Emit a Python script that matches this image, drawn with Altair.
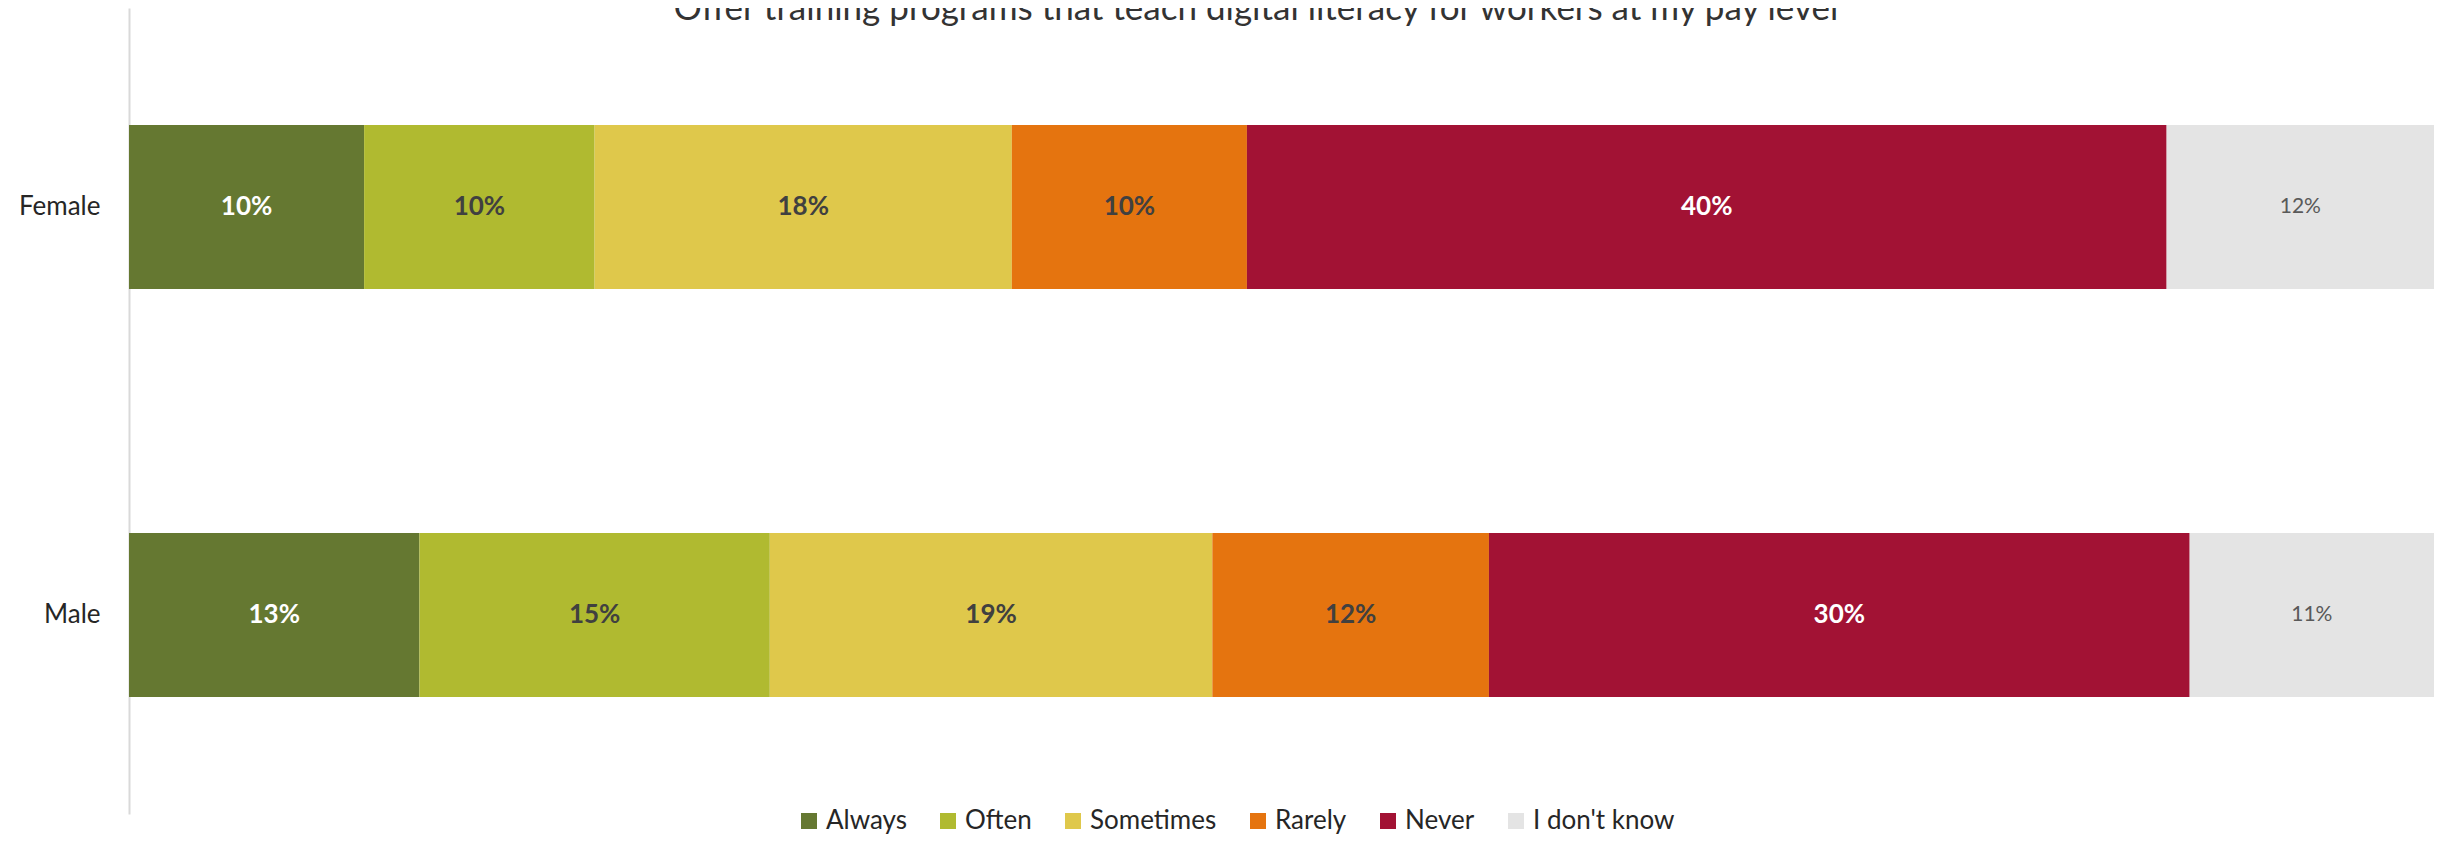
import altair as alt
import pandas as pd

title_text = "Offer training programs that teach digital literacy for workers at my pay level"
genders = ["Female", "Male"]
categories = ["Always", "Often", "Sometimes", "Rarely", "Never", "I don't know"]
female_values = [10.2, 10.0, 18.1, 10.2, 39.9, 11.6]
male_values = [12.6, 15.2, 19.2, 12.0, 30.4, 10.6]
colors = ["#657831", "#b0ba30", "#dfc84b", "#e5740f", "#a21234", "#e4e4e4"]

rows = []
for g, vals in zip(genders, [female_values, male_values]):
    for i, (c, v) in enumerate(zip(categories, vals)):
        rows.append({"gender": g, "category": c, "value": v, "order": i})
df = pd.DataFrame(rows)

FONT = "Lato"
W, H = 2305, 806

base = alt.Chart(df).transform_stack(
    stack="value", as_=["x0", "x1"], groupby=["gender"], sort=[alt.SortField("order")]
).transform_calculate(
    mid="(datum.x0 + datum.x1) / 2",
    label="format(datum.value, '.0f') + '%'",
)

yenc = alt.Y(
    "gender:N",
    sort=genders,
    scale=alt.Scale(paddingInner=0.598, paddingOuter=0.287),
    axis=alt.Axis(
        title=None, ticks=False, domainColor="#d9d9d9", domainWidth=2,
        labelFont=FONT, labelFontSize=26, labelColor="#262626", labelPadding=29,
    ),
)
xscale = alt.Scale(domain=[0, 100], nice=False, zero=True)

bars = base.mark_bar().encode(
    x=alt.X("x0:Q", scale=xscale, axis=None),
    x2="x1:Q",
    y=yenc,
    color=alt.Color(
        "category:N",
        scale=alt.Scale(domain=categories, range=colors),
        legend=alt.Legend(
            orient="none", legendX=667, legendY=800, direction="horizontal",
            title=None, symbolType="square", symbolSize=256, symbolStrokeWidth=0,
            labelFont=FONT, labelFontSize=26, labelColor="#262626",
            columnPadding=28, labelOffset=4,
        ),
    ),
)

def text_layer(cats, color, weight, size):
    return base.transform_filter(
        alt.FieldOneOfPredicate(field="category", oneOf=cats)
    ).mark_text(
        font=FONT, fontSize=size, fontWeight=weight, color=color, baseline="middle"
    ).encode(
        x=alt.X("mid:Q", scale=xscale, axis=None),
        y=alt.Y("gender:N", sort=genders),
        text="label:N",
    )

t_white = text_layer(["Always", "Never"], "white", "bold", 26)
t_dark = text_layer(["Often", "Sometimes", "Rarely"], "#404040", "bold", 26)
t_gray = text_layer(["I don't know"], "#595959", "normal", 21)

title = alt.Chart(pd.DataFrame({"t": [title_text]})).mark_text(
    font=FONT, fontSize=35, color="#333333", baseline="alphabetic", align="center", clip=True
).encode(x=alt.value(1127), y=alt.value(12), text="t:N")

chart = alt.layer(bars, t_white, t_dark, t_gray, title).properties(
    width=W, height=H,
    autosize=alt.AutoSizeParams(type="none"),
    padding={"left": 121, "top": 0, "right": 4, "bottom": 21},
).configure_view(stroke=None).configure_axis(grid=False)

chart.save("out.html", embed_options={"renderer": "svg", "actions": False})
